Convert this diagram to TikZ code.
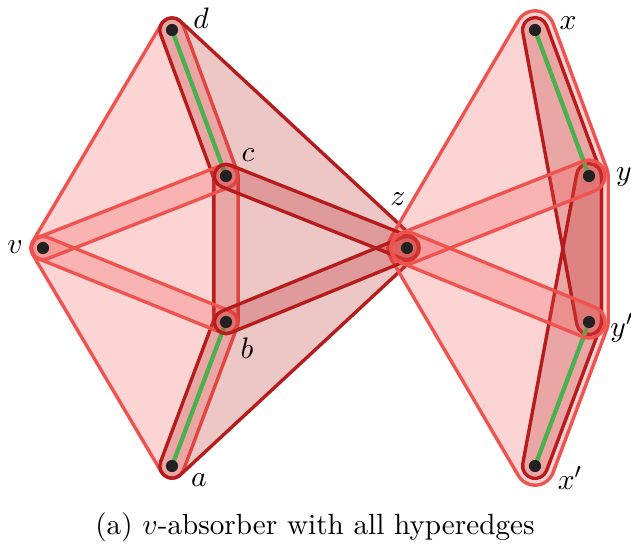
\documentclass[tikz,border=0pt]{standalone}
\usepackage{tikz}
\usetikzlibrary{calc}
\definecolor{hyplight}{HTML}{EF5350}
\definecolor{hypdark}{HTML}{B71C1C}
\definecolor{matchgreen}{HTML}{4CAF50}
\definecolor{vertexink}{HTML}{212121}
\tikzset{
  lighthyp/.style={draw=hyplight, fill=hyplight, fill opacity=0.25, line width=1.25pt},
  darkhyp/.style={draw=hypdark, fill=hypdark, fill opacity=0.25, line width=1.25pt},
  matchedge/.style={matchgreen, line width=1.6pt},
  vtx/.style={circle, fill=vertexink, inner sep=0pt, minimum size=4.5pt},
}
\makeatletter
\def\hyp@first#1/#2/#3,#4\relax{\def\hyp@prev{#1}\def\hyp@cur{#2}}
% rounded hull around a convex vertex list (prev/cur/next, counterclockwise)
\newcommand{\hyperedge}[3]{%
  \hyp@first#3\relax
  \draw[#1] ($(\hyp@cur)!#2!90:(\hyp@prev)$)
    \foreach \pv/\cv/\nv in {#3} {
      let \p1 = ($(\cv)-(\pv)$), \p2 = ($(\nv)-(\cv)$),
          \n1 = {atan2(\y1,\x1)-90}, \n2 = {atan2(\y2,\x2)-90},
          \n3 = {\n2 < \n1 ? \n2+360 : \n2} in
      -- ($(\cv)!#2!90:(\pv)$) arc[start angle=\n1, end angle=\n3, radius=#2]
    } -- cycle;
}
\makeatother

\begin{document}
\begin{tikzpicture}[x=0.37pt, y=0.37pt,
    vlabel/.style={inner sep=0pt, font=\fontsize{10.8}{13}\selectfont}]
  \useasboundingbox (0,0) rectangle (631,-555);

  % vertex positions
  \foreach \nm/\px/\py in {v/43/-248, d/172/-30, c/226/-176, b/226/-322, a/172/-466,
      z/407/-248, x/535/-30, y/589/-176, yp/589/-322, xp/535/-466} {
    \coordinate (\nm) at (\px,\py);
  }

  % left gadget: big hyperedges
  \hyperedge{lighthyp}{4.5pt}{d/v/a, v/a/b, a/b/c, b/c/d, c/d/v}
  % {a,b,c,d,z} is not convex: mitred at b and c
  \coordinate (dc1) at ($(d)!4.5pt!-90:(c)$);
  \coordinate (dc2) at ($(c)!4.5pt!90:(d)$);
  \coordinate (cb1) at ($(c)!4.5pt!-90:(b)$);
  \coordinate (cb2) at ($(b)!4.5pt!90:(c)$);
  \coordinate (ba1) at ($(b)!4.5pt!-90:(a)$);
  \coordinate (ba2) at ($(a)!4.5pt!90:(b)$);
  \draw[darkhyp]
    let \p1 = ($(d)-(z)$), \p2 = ($(c)-(d)$), \p3 = ($(a)-(b)$), \p4 = ($(z)-(a)$),
        \n1 = {atan2(\y1,\x1)-90}, \n2 = {atan2(\y2,\x2)+270},
        \n3 = {atan2(\y3,\x3)+270}, \n4 = {atan2(\y4,\x4)+270} in
    ($(d)!4.5pt!90:(z)$) arc[start angle=\n1, end angle=\n2, radius=4.5pt]
    -- (intersection of dc1--dc2 and cb1--cb2)
    -- (intersection of cb1--cb2 and ba1--ba2)
    -- (ba2) arc[start angle=\n3, end angle=\n4, radius=4.5pt]
    -- ($(z)!4.5pt!90:(a)$) arc[start angle=\n4-360, end angle=\n1, radius=4.5pt]
    -- cycle;

  % right gadget: big hyperedges
  \hyperedge{lighthyp}{7.1pt}{x/z/xp, z/xp/yp, xp/yp/y, yp/y/x, y/x/z}
  \hyperedge{darkhyp}{4.6pt}{y/x/yp, x/yp/y, yp/y/x}
  \hyperedge{darkhyp}{4.6pt}{y/xp/yp, xp/yp/y, yp/y/xp}

  % matching
  \draw[matchedge] (d) -- (c);
  \draw[matchedge] (a) -- (b);
  \draw[matchedge] (x) -- (y);
  \draw[matchedge] (xp) -- (yp);

  % 2-edges
  \hyperedge{lighthyp}{4.3pt}{c/v/c, v/c/v}
  \hyperedge{lighthyp}{4.3pt}{b/v/b, v/b/v}
  \hyperedge{darkhyp}{4.3pt}{z/c/z, c/z/c}
  \hyperedge{darkhyp}{4.3pt}{z/b/z, b/z/b}
  \hyperedge{lighthyp}{5.9pt}{y/z/y, z/y/z}
  \hyperedge{lighthyp}{5.9pt}{yp/z/yp, z/yp/z}

  \foreach \nm in {v,d,c,b,a,z,x,y,yp,xp} {
    \node[vtx] (n\nm) at (\nm) {};
  }

  \node[vlabel] (ld) at (201,-18) {$d$};
  \node[vlabel] (lc) at (248,-155) {$c$};
  \node[vlabel] (lv) at (15,-247) {$v$};
  \node[vlabel] (lb) at (247,-348) {$b$};
  \node[vlabel] (la) at (199,-480) {$a$};
  \node[vlabel] (lz) at (398,-199) {$z$};
  \node[vlabel] (lx) at (568,-23) {$x$};
  \node[vlabel] (ly) at (624,-177) {$y$};
  \node[vlabel] (lyp) at (622,-328) {$y'$};
  \node[vlabel] (lxp) at (570,-478) {$x'$};

  \node[font=\fontsize{10.8}{13}\selectfont] (caption) at (315,-527)
    {(a) $v$-absorber with all hyperedges};
\end{tikzpicture}
\end{document}
